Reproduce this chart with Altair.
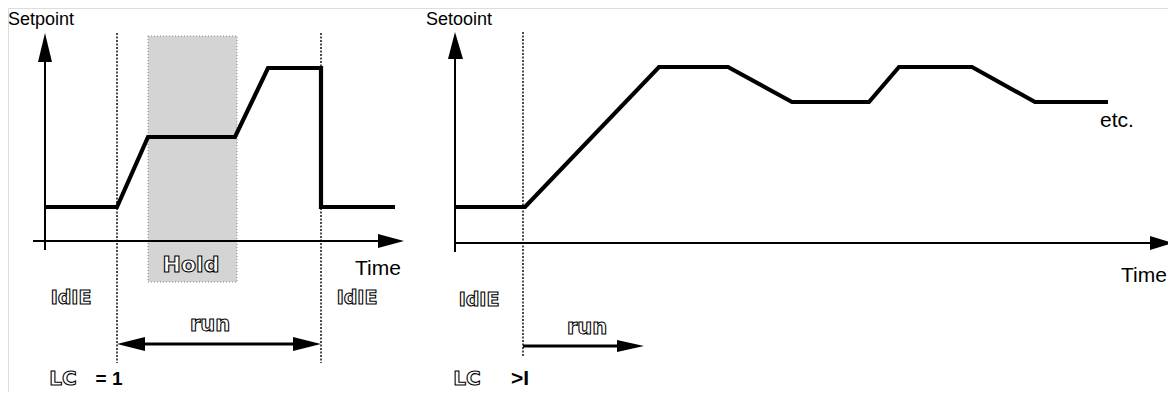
import altair as alt
import pandas as pd

# ---- setpoint profiles (time position, setpoint level; picture coordinates) ----
left_time = [46, 117, 148, 235, 268, 321, 321, 395]
left_setpoint = [207, 207, 137, 137, 68, 68, 207, 207]
right_time = [455, 525, 659, 728, 792, 869, 899, 972, 1035, 1108]
right_setpoint = [207, 207, 67, 67, 102, 102, 67, 67, 102, 102]

# ---- annotation texts ----
plain_labels = ["Setpoint", "Setooint", "Time", "Time", "etc."]
outline_labels = ["IdIE", "IdIE", "IdIE", "Hold", "run", "run", "LC", "LC"]
bold_labels = ["= 1", ">I"]

XS = alt.Scale(domain=[8, 1168], nice=False, zero=False)
YS = alt.Scale(domain=[392, 8], nice=False, zero=False)

# profile table
prof = pd.DataFrame({
    "t": left_time + right_time,
    "sp": left_setpoint + right_setpoint,
    "panel": ["L"] * len(left_time) + ["R"] * len(right_time),
    "o": list(range(len(left_time))) + list(range(len(right_time))),
})

# hold region
hold = pd.DataFrame({"x": [148], "x2": [237], "y": [36], "y2": [282]})

# dotted phase boundaries
dots = pd.DataFrame({"x": [117, 321, 523], "y": [33, 33, 32], "y2": [363, 363, 356]})

# axis / arrow shafts
shafts = pd.DataFrame({
    "x": [33, 45, 455, 455, 130, 523],
    "x2": [382, 45, 1153, 455, 305, 620],
    "y": [241, 50, 243, 45, 344, 346],
    "y2": [241, 250, 243, 252, 344, 346],
    "w": [2.2, 2.0, 2.2, 2.0, 3.2, 3.2],
})

# horizontal arrowheads (triangles)
h_id = ["a", "a", "b", "b", "c", "c", "d", "d", "e", "e"]
h_x = [378, 404, 1150, 1173, 145, 117, 293, 321, 617, 644]
h_y = [234, 241, 236, 243, 337, 344, 337, 344, 340, 346]
h_y2 = [248, 241, 250, 243, 351, 344, 351, 344, 352, 346]
harrows = pd.DataFrame({"id": h_id, "x": h_x, "y": h_y, "y2": h_y2})

# vertical arrowheads
v_id = ["a", "a", "b", "b"]
v_y = [62, 33, 59, 32]
v_x = [38, 45, 448, 455]
v_x2 = [52, 45, 463, 455]
varrows = pd.DataFrame({"id": v_id, "y": v_y, "x": v_x, "x2": v_x2})

plain = pd.DataFrame({
    "label": plain_labels,
    "x": [8, 426, 355, 1121, 1100],
    "y": [25, 25, 275, 282, 127],
    "fs": [18, 18, 21, 21, 21],
})
outline = pd.DataFrame({
    "label": outline_labels,
    "x": [71, 357, 479, 191, 210, 587, 63, 467],
    "y": [298, 298, 300, 265, 325, 328, 379, 379],
    "fs": [19, 19, 19, 22, 21, 21, 20, 20],
})
boldt = pd.DataFrame({"label": bold_labels, "x": [109, 520], "y": [379, 379], "fs": [19, 21]})

rect = alt.Chart(hold).mark_rect(fill="#d4d4d4", stroke="#8a8a8a", strokeWidth=1, strokeDash=[1, 2]).encode(
    x=alt.X("x:Q", scale=XS, axis=None), x2="x2:Q",
    y=alt.Y("y:Q", scale=YS, axis=None), y2="y2:Q")

dotted = alt.Chart(dots).mark_rule(color="black", strokeWidth=1.4, strokeDash=[2, 1.5]).encode(
    x=alt.X("x:Q", scale=XS, axis=None),
    y=alt.Y("y:Q", scale=YS, axis=None), y2="y2:Q")

axes = alt.Chart(shafts).mark_rule(color="black").encode(
    x=alt.X("x:Q", scale=XS, axis=None), x2="x2:Q",
    y=alt.Y("y:Q", scale=YS, axis=None), y2="y2:Q",
    strokeWidth=alt.StrokeWidth("w:Q", scale=None, legend=None))

harr = alt.Chart(harrows).mark_area(orient="vertical", color="black").encode(
    x=alt.X("x:Q", scale=XS, axis=None),
    y=alt.Y("y:Q", scale=YS, axis=None), y2="y2:Q",
    detail="id:N")

varr = alt.Chart(varrows).mark_area(orient="horizontal", color="black").encode(
    y=alt.Y("y:Q", scale=YS, axis=None),
    x=alt.X("x:Q", scale=XS, axis=None), x2="x2:Q",
    detail="id:N")

lines = alt.Chart(prof).mark_line(color="black", strokeWidth=4.2, strokeJoin="miter").encode(
    x=alt.X("t:Q", scale=XS, axis=None),
    y=alt.Y("sp:Q", scale=YS, axis=None),
    detail="panel:N", order="o:Q")

ptext = alt.Chart(plain).mark_text(align="left", baseline="alphabetic", font="Liberation Sans", color="black").encode(
    x=alt.X("x:Q", scale=XS, axis=None), y=alt.Y("y:Q", scale=YS, axis=None),
    text="label:N", size=alt.Size("fs:Q", scale=None, legend=None))

otext = alt.Chart(outline).mark_text(align="center", baseline="middle", font="DejaVu Sans", fontWeight="bold",
                                     fill="white", stroke="black", strokeWidth=1.1).encode(
    x=alt.X("x:Q", scale=XS, axis=None), y=alt.Y("y:Q", scale=YS, axis=None),
    text="label:N", size=alt.Size("fs:Q", scale=None, legend=None))

btext = alt.Chart(boldt).mark_text(align="center", baseline="middle", font="Liberation Sans", fontWeight="bold",
                                   color="black").encode(
    x=alt.X("x:Q", scale=XS, axis=None), y=alt.Y("y:Q", scale=YS, axis=None),
    text="label:N", size=alt.Size("fs:Q", scale=None, legend=None))

chart = alt.layer(rect, dotted, axes, harr, varr, lines, ptext, otext, btext).properties(
    width=1160, height=384, padding=0, autosize=alt.AutoSizeParams(type="none")
).configure_view(stroke=None).configure(background="white")

chart.save("out.html", embed_options={"renderer": "svg", "actions": False})
